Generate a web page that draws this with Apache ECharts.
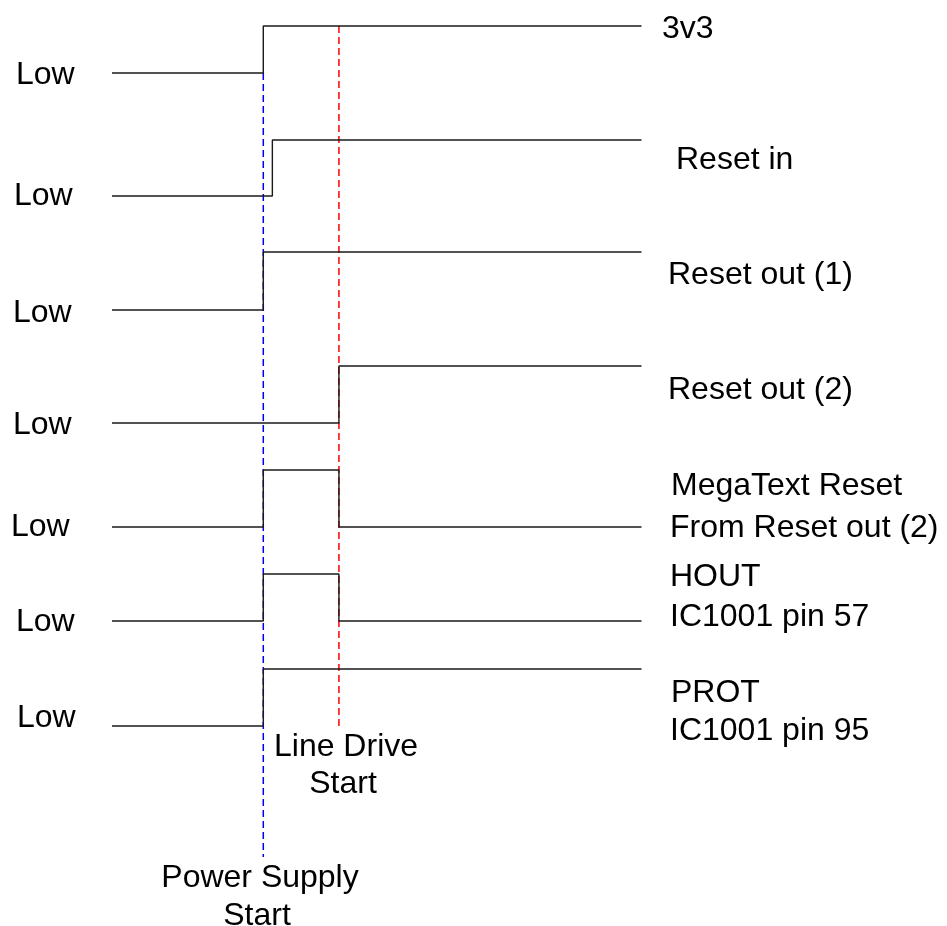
<!DOCTYPE html>
<html>
<head>
<meta charset="utf-8">
<script src="https://cdn.jsdelivr.net/npm/echarts@6/dist/echarts.min.js"></script>
<style>
  html, body { margin: 0; padding: 0; background: #ffffff; }
  #chart { width: 947px; height: 926px; }
</style>
</head>
<body>
<div id="chart"></div>
<script>
// ---- Data (time in arbitrary units, level in vertical axis units) ----
const signalNames = ['3v3', 'Reset in', 'Reset out (1)', 'Reset out (2)', 'MegaText Reset', 'HOUT', 'PROT'];
const rightLabels = [['3v3'], ['Reset in'], ['Reset out (1)'], ['Reset out (2)'],
                     ['MegaText Reset', 'From Reset out (2)'], ['HOUT', 'IC1001 pin 57'], ['PROT', 'IC1001 pin 95']];
const lowLevels  = [73, 196, 310, 423, 527, 621, 726];
const highLevels = [26, 140, 252, 366, 470, 574, 669];
// times at which each signal toggles (starting Low)
const toggleTimes = [[10], [10.6], [10], [15], [10, 15], [10, 15], [10]];
const timeStart = 0;
const timeEnd = 35;
// event markers
const markerNames = [['Power Supply', 'Start'], ['Line Drive', 'Start']];
const markerTimes = [10, 15];
const markerFrom  = [73, 26];
const markerTo    = [857, 726];
const markerColors = ['#0000ff', '#ff0000'];
const lowText = 'Low';

// ---- Layout (pixels) ----
const FONT = '32px "Liberation Sans", Arial, sans-serif';
const DY = 2;
const lowLabelPos = [[16, 73], [14, 194], [13, 311], [13, 423], [11, 525], [16, 620], [17, 716]];
const rightLabelPos = [
  [[662, 27]], [[676, 158]], [[668, 273]], [[668, 388]],
  [[671, 484], [670, 526]], [[670, 575], [670, 615]], [[671, 691], [670, 729]]
];
const markerLabelPos = [[[260, 876], [257, 914]], [[346, 745], [343, 782]]];

function buildSteps(i) {
  const pts = [];
  let high = false;
  pts.push([timeStart, lowLevels[i]]);
  toggleTimes[i].forEach(t => {
    pts.push([t, high ? highLevels[i] : lowLevels[i]]);
    high = !high;
    pts.push([t, high ? highLevels[i] : lowLevels[i]]);
  });
  pts.push([timeEnd, high ? highLevels[i] : lowLevels[i]]);
  return pts;
}

const series = [];
markerTimes.forEach((t, k) => {
  series.push({
    name: markerNames[k].join(' '),
    type: 'line',
    data: [[t, markerFrom[k]], [t, markerTo[k]]],
    symbol: 'none',
    silent: true,
    z: 1,
    lineStyle: { color: markerColors[k], width: 1.5, type: [7, 4] }
  });
});
signalNames.forEach((n, i) => {
  series.push({
    name: n,
    type: 'line',
    data: buildSteps(i),
    symbol: 'none',
    z: 3,
    lineStyle: { color: '#1a1a1a', width: 1.4 }
  });
});

const graphic = [];
function addText(txt, x, y, align) {
  graphic.push({
    type: 'text', x: x, y: y + DY, silent: true,
    style: { text: txt, font: FONT, fill: '#000', textAlign: align, textVerticalAlign: 'middle' }
  });
}
lowLabelPos.forEach(p => addText(lowText, p[0], p[1], 'left'));
rightLabels.forEach((lines, i) => lines.forEach((l, j) => addText(l, rightLabelPos[i][j][0], rightLabelPos[i][j][1], 'left')));
markerNames.forEach((lines, k) => lines.forEach((l, j) => addText(l, markerLabelPos[k][j][0], markerLabelPos[k][j][1], 'center')));

const chart = echarts.init(document.getElementById('chart'));
chart.setOption({
  animation: false,
  backgroundColor: '#ffffff',
  grid: { left: 112, right: 305.5, top: 0, bottom: 0 },
  xAxis: { type: 'value', min: timeStart, max: timeEnd, show: false },
  yAxis: { type: 'value', min: 0, max: 926, inverse: true, show: false },
  series: series,
  graphic: graphic
});
</script>
</body>
</html>
